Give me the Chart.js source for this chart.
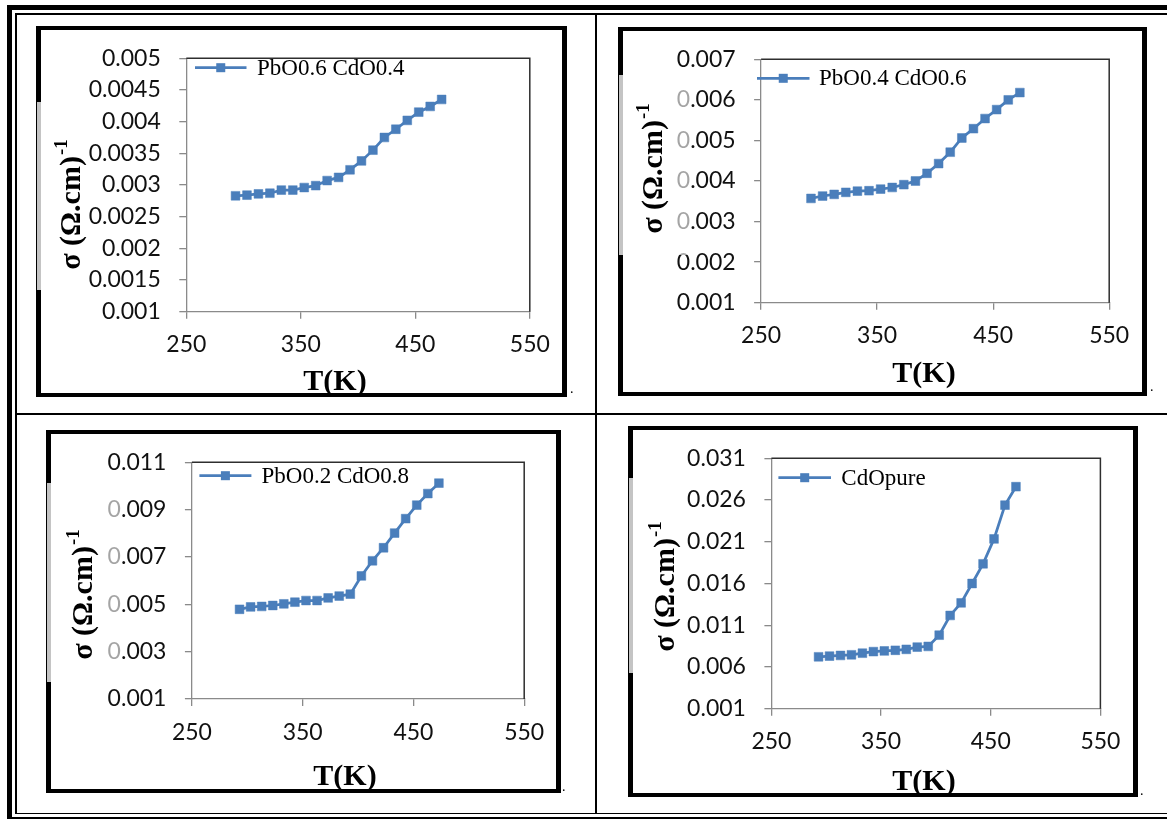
<!DOCTYPE html>
<html><head><meta charset="utf-8">
<script src="https://cdn.jsdelivr.net/npm/chart.js@4/dist/chart.umd.min.js"></script>
<style>
html,body{margin:0;padding:0;background:#fff;}
body{width:1167px;height:819px;position:relative;overflow:hidden;}
.ln{position:absolute;background:#000;}
.frame{position:absolute;box-sizing:border-box;border:4px solid #000;border-left-width:5px;border-right-width:5px;z-index:2;pointer-events:none;}
.gbar{position:absolute;z-index:3;width:5px;background:linear-gradient(to right,#000 0,#000 1.5px,#c4c4c4 1.5px,#c4c4c4 100%);}
.fade{position:absolute;z-index:3;background:rgba(255,255,255,0.62);}
canvas{position:absolute;z-index:1;}
.dot{position:absolute;font:14px 'Liberation Serif';color:#000;z-index:3;line-height:14px;}
</style></head><body>
<div class="ln" style="left:7px;top:5px;width:1160px;height:5px"></div>
<div class="ln" style="left:15px;top:13px;width:1152px;height:2px"></div>
<div class="ln" style="left:7px;top:5px;width:5px;height:813px"></div>
<div class="ln" style="left:15px;top:13px;width:1.5px;height:801px"></div>
<div class="ln" style="left:15px;top:812.5px;width:1152px;height:1.5px"></div>
<div class="ln" style="left:7px;top:816.5px;width:1160px;height:2px"></div>
<div class="ln" style="left:595px;top:13px;width:2px;height:800px"></div>
<div class="ln" style="left:15px;top:413px;width:1152px;height:2px"></div>
<div class="gbar" style="left:36px;top:102px;height:188px"></div>
<div class="gbar" style="left:618px;top:75px;height:180px"></div>
<div class="gbar" style="left:46px;top:483px;height:199px"></div>
<div class="gbar" style="left:628px;top:478px;height:195px"></div>
<div class="fade" style="left:677px;top:75px;width:14px;height:180px"></div>
<div class="fade" style="left:108px;top:483px;width:14px;height:199px"></div>
<div id="host"></div>
<script>
// ---------- data ----------
const temperatureK = [293,303,313,323,333,343,353,363,373,383,393,403,413,423,433,443,453,463,473];
const sigmaPbO06 = [0.00283,0.00284,0.00286,0.00287,0.00292,0.00292,0.00296,0.00299,0.00307,0.00312,0.00324,0.00338,0.00355,0.00375,0.00388,0.00402,0.00415,0.00424,0.00435];
const sigmaPbO04 = [0.00357,0.00363,0.00367,0.00372,0.00375,0.00376,0.00380,0.00384,0.00391,0.00400,0.00419,0.00443,0.00471,0.00506,0.00529,0.00554,0.00576,0.00600,0.00618];
const sigmaPbO02 = [0.00479,0.00489,0.00491,0.00495,0.00502,0.00509,0.00516,0.00516,0.00527,0.00535,0.00543,0.00620,0.00684,0.00739,0.00801,0.00862,0.00919,0.00968,0.01012];
const sigmaCdO   = [0.00722,0.00730,0.00738,0.00746,0.00765,0.00784,0.00792,0.00800,0.00811,0.00838,0.00846,0.00981,0.01217,0.01368,0.01600,0.01836,0.02134,0.02539,0.02760];
const seriesNames = ['PbO0.6 CdO0.4','PbO0.4 CdO0.6','PbO0.2 CdO0.8','CdOpure'];
const xTickValues = [250,350,450,550];
const yTicks1 = [0.001,0.0015,0.002,0.0025,0.003,0.0035,0.004,0.0045,0.005];
const yTicks2 = [0.001,0.002,0.003,0.004,0.005,0.006,0.007];
const yTicks3 = [0.001,0.003,0.005,0.007,0.009,0.011];
const yTicks4 = [0.001,0.006,0.011,0.016,0.021,0.026,0.031];
const xTitleText = 'T(K)';
const yTitleMain = 'σ (Ω.cm)';
const yTitleSup = '-1';

// ---------- layout (page coordinates) ----------
const panels = [
  {values:sigmaPbO06, name:seriesNames[0], yt:yTicks1,
   frame:{x:36,y:26,w:531,h:371}, plot:{L:186.3,T:44.3,R:529.8,B:311.7},
   yTitle:{x:80,y:205}, xTitle:{x:335,y:390}, legend:{x1:195,x2:246.5,y:67.7,tx:257}},
  {values:sigmaPbO04, name:seriesNames[1], yt:yTicks2,
   frame:{x:618,y:27,w:529,h:369}, plot:{L:761.1,T:51.7,R:1109.2,B:302.7},
   yTitle:{x:662,y:169}, xTitle:{x:924,y:381.7}, legend:{x1:757,x2:809.5,y:78.3,tx:819}},
  {values:sigmaPbO02, name:seriesNames[2], yt:yTicks3,
   frame:{x:46,y:430,w:515,h:363}, plot:{L:191.9,T:453.7,R:524.2,B:699},
   yTitle:{x:92,y:595}, xTitle:{x:345,y:785}, legend:{x1:199.4,x2:251.4,y:475.7,tx:261.5}},
  {values:sigmaCdO, name:seriesNames[3], yt:yTicks4,
   frame:{x:628,y:426,w:510,h:371}, plot:{L:771.4,T:450,R:1100.4,B:708.7},
   yTitle:{x:674,y:587}, xTitle:{x:924,y:790}, legend:{x1:778.4,x2:831,y:477.7,tx:841.3}}
];
const dots = [[570,382],[1150,380],[562,780],[1140,784]];

const BLUE = '#4a7ebb';
const AXIS_GRAY = '#8a8a8a';

const decor = {
  id:'decor',
  beforeDatasetsDraw(chart, args, o){
    const ctx = chart.ctx, a = chart.chartArea;
    ctx.save();
    ctx.strokeStyle = '#2e2e2e'; ctx.lineWidth = 1.5;
    ctx.beginPath(); ctx.moveTo(a.left, a.top); ctx.lineTo(a.right, a.top); ctx.lineTo(a.right, a.bottom); ctx.stroke();
    ctx.restore();
  },
  afterDraw(chart, args, o){
    const ctx = chart.ctx;
    const ds = chart.data.datasets[0];
    ctx.save();
    ctx.strokeStyle = ds.borderColor; ctx.lineWidth = ds.borderWidth;
    ctx.beginPath(); ctx.moveTo(o.lg.x1, o.lg.y); ctx.lineTo(o.lg.x2, o.lg.y); ctx.stroke();
    const s = 9, mx = (o.lg.x1 + o.lg.x2)/2;
    ctx.fillStyle = ds.pointBackgroundColor; ctx.fillRect(mx - s/2, o.lg.y - s/2, s, s);
    ctx.fillStyle = '#000'; ctx.font = '23px "Liberation Serif", "Times New Roman", serif';
    ctx.textAlign = 'left'; ctx.textBaseline = 'middle';
    ctx.fillText(ds.label, o.lg.tx, o.lg.y + 1);
    ctx.font = 'bold 30px "Liberation Serif", "Times New Roman", serif';
    ctx.textAlign = 'center'; ctx.textBaseline = 'alphabetic';
    ctx.fillText(o.xt.text, o.xt.x, o.xt.y);
    ctx.translate(o.yt.x, o.yt.y); ctx.rotate(-Math.PI/2);
    const fMain = 'bold 30px "Liberation Serif", "Times New Roman", serif';
    const fSup = 'bold 19px "Liberation Serif", "Times New Roman", serif';
    ctx.font = fMain; const wm = ctx.measureText(o.yt.main).width;
    ctx.font = fSup; const ws = ctx.measureText(o.yt.sup).width;
    const st = -(wm + ws)/2;
    ctx.textAlign = 'left';
    ctx.font = fMain; ctx.fillText(o.yt.main, st, 0);
    ctx.font = fSup; ctx.fillText(o.yt.sup, st + wm + 1, -13);
    ctx.restore();
  }
};

const fmt = v => parseFloat(Number(v).toFixed(5)).toString();
const host = document.getElementById('host');

panels.forEach(p => {
  const f = p.frame, pl = p.plot;
  const cv = document.createElement('canvas');
  cv.width = f.w; cv.height = f.h;
  cv.style.left = f.x + 'px'; cv.style.top = f.y + 'px';
  cv.style.width = f.w + 'px'; cv.style.height = f.h + 'px';
  host.appendChild(cv);
  const fr = document.createElement('div');
  fr.className = 'frame';
  fr.style.left = f.x + 'px'; fr.style.top = f.y + 'px';
  fr.style.width = f.w + 'px'; fr.style.height = f.h + 'px';
  host.appendChild(fr);

  const YW = pl.L - f.x - 6;
  const XH = (f.y + f.h) - pl.B - 5;
  const pad = { left: 6, top: pl.T - f.y, right: (f.x + f.w) - pl.R, bottom: 5 };
  const yMin = p.yt[0], yMax = p.yt[p.yt.length - 1];
  new Chart(cv, {
    type:'line',
    data:{
      datasets:[{
        label:p.name,
        data: temperatureK.map((t,i) => ({x:t, y:p.values[i]})),
        borderColor:BLUE, backgroundColor:BLUE,
        borderWidth:2.75, tension:0,
        pointStyle:'rect', pointRadius:6.2, pointBorderWidth:0.5,
        pointBackgroundColor:BLUE, pointBorderColor:BLUE
      }]
    },
    options:{
      responsive:false, animation:false, devicePixelRatio:1,
      layout:{padding:pad, autoPadding:false},
      plugins:{
        legend:{display:false}, tooltip:{enabled:false},
        decor:{
          lg:{x1:p.legend.x1 - f.x, x2:p.legend.x2 - f.x, y:p.legend.y - f.y, tx:p.legend.tx - f.x},
          xt:{text:xTitleText, x:p.xTitle.x - f.x, y:p.xTitle.y - f.y},
          yt:{main:yTitleMain, sup:yTitleSup, x:p.yTitle.x - f.x, y:p.yTitle.y - f.y}
        }
      },
      scales:{
        x:{
          type:'linear', min:xTickValues[0], max:xTickValues[xTickValues.length-1],
          afterBuildTicks: s => { s.ticks = xTickValues.map(v => ({value:v})); },
          afterFit: s => { s.height = XH; },
          border:{color:AXIS_GRAY, width:1.3},
          grid:{drawOnChartArea:false, drawTicks:true, tickLength:7, color:AXIS_GRAY, lineWidth:1.3},
          ticks:{font:{family:'Lato', size:23}, color:'#111', padding:12.5, maxRotation:0, autoSkip:false, callback: v => String(v)}
        },
        y:{
          type:'linear', min:yMin, max:yMax,
          afterBuildTicks: s => { s.ticks = p.yt.map(v => ({value:v})); },
          afterFit: s => { s.width = YW; },
          border:{color:AXIS_GRAY, width:1.3},
          grid:{drawOnChartArea:false, drawTicks:true, tickLength:7, color:AXIS_GRAY, lineWidth:1.3},
          ticks:{font:{family:'Lato', size:23}, color:'#111', padding:18.5, autoSkip:false, callback: v => fmt(v)}
        }
      }
    },
    plugins:[decor]
  });
});

dots.forEach(d => {
  const s = document.createElement('span');
  s.className = 'dot'; s.textContent = '.';
  s.style.left = d[0] + 'px'; s.style.top = d[1] + 'px';
  host.appendChild(s);
});
</script>
</body></html>
